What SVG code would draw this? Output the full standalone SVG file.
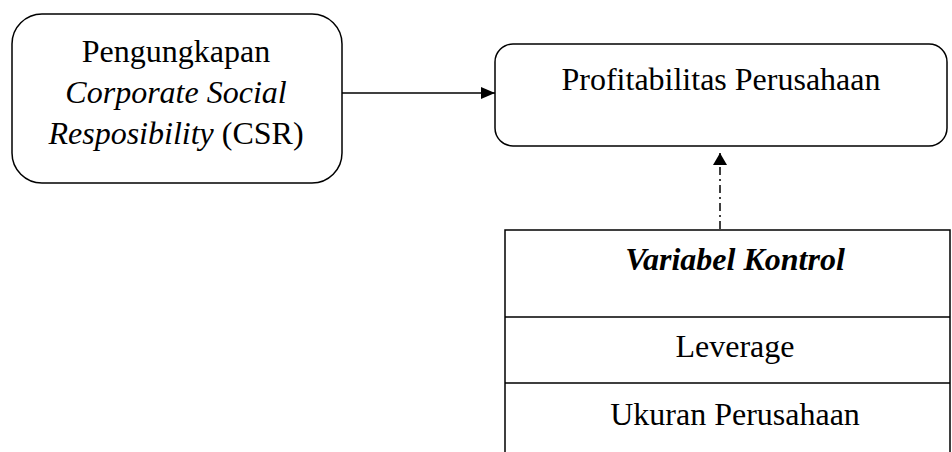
<svg xmlns="http://www.w3.org/2000/svg" width="952" height="452" viewBox="0 0 952 452">
<style>
.box{fill:#fff;stroke:#000;stroke-width:1.5}
.t{font-family:"Liberation Serif","Times New Roman",serif;font-size:32px;fill:#000;text-anchor:middle}
.ln{stroke:#000;stroke-width:1.5;fill:none}
</style>
<defs>
<marker id="ah" viewBox="0 0 10 10" refX="10" refY="5" markerWidth="14" markerHeight="12" markerUnits="userSpaceOnUse" orient="auto" preserveAspectRatio="none"><path d="M0,0 L10,5 L0,10 z" fill="#000"/></marker>
<marker id="ah2" viewBox="0 0 10 10" refX="10" refY="5" markerWidth="12" markerHeight="14" markerUnits="userSpaceOnUse" orient="auto" preserveAspectRatio="none"><path d="M0,0 L10,5 L0,10 z" fill="#000"/></marker>
</defs>
<rect width="952" height="452" fill="#fff"/>
<g id="csr">
<rect class="box" x="12" y="14" width="330" height="169" rx="30"/>
<text class="t" x="176" y="62">Pengungkapan</text>
<text class="t" x="176" y="103" font-style="italic">Corporate Social</text>
<text class="t" x="176" y="144"><tspan font-style="italic">Resposibility</tspan> (CSR)</text>
</g>
<g id="profit">
<rect class="box" x="495" y="44" width="452" height="102" rx="18"/>
<text class="t" x="721" y="90">Profitabilitas Perusahaan</text>
</g>
<g id="kontrol">
<path class="ln" d="M505,452 V230 H950 V452 M505,317 H950 M505,383 H950"/>
<text class="t" x="735" y="270" font-style="italic" font-weight="bold">Variabel Kontrol</text>
<text class="t" x="735" y="357">Leverage</text>
<text class="t" x="735" y="425">Ukuran Perusahaan</text>
</g>
<g id="connectors">
<line class="ln" x1="342" y1="93" x2="495" y2="93" marker-end="url(#ah)"/>
<line class="ln" x1="720" y1="229" x2="720" y2="153" stroke-dasharray="8,4,2,4" marker-end="url(#ah2)"/>
</g>
</svg>
